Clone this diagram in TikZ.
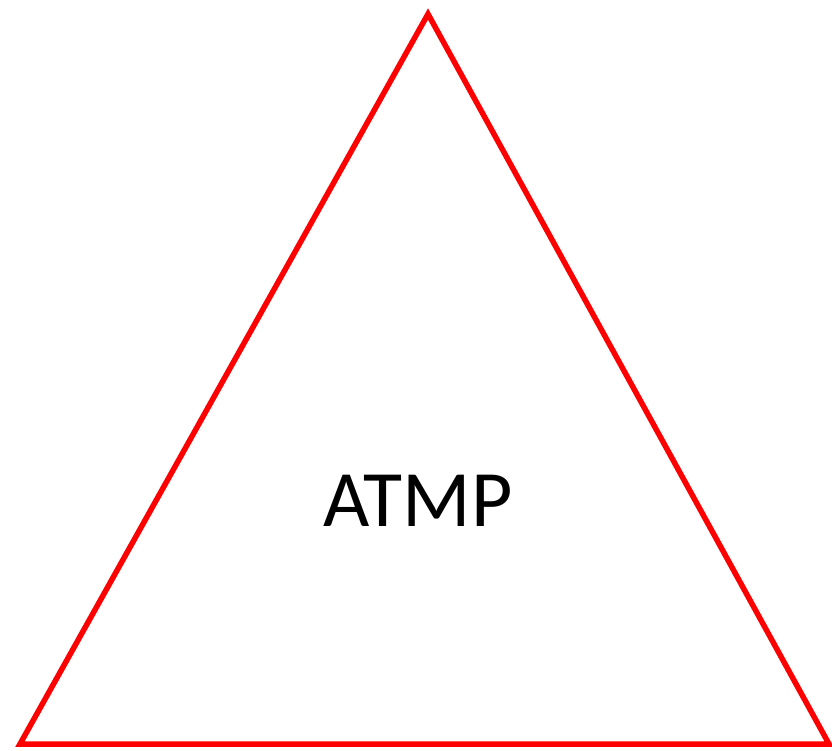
\documentclass[tikz,border=0pt]{standalone}
\usepackage{fontspec}
\setmainfont{Carlito}

\begin{document}
\begin{tikzpicture}[x=1pt, y=-1pt, line join=miter]
  %================= Frame =================
  \useasboundingbox (0,0) rectangle (832,751);
  %================= Corners =================
  \coordinate (apex) at (428,14);
  \coordinate (left) at (20,744);
  \coordinate (right) at (829,744);
  %================= Triangle =================
  \draw[red, line width=5.5pt] (apex) -- (right) -- (left) -- cycle;
  %================= Label =================
  \node[font=\fontsize{80}{84}\selectfont, inner sep=0pt, anchor=base] (label) at (418,526) {ATMP};
\end{tikzpicture}
\end{document}
